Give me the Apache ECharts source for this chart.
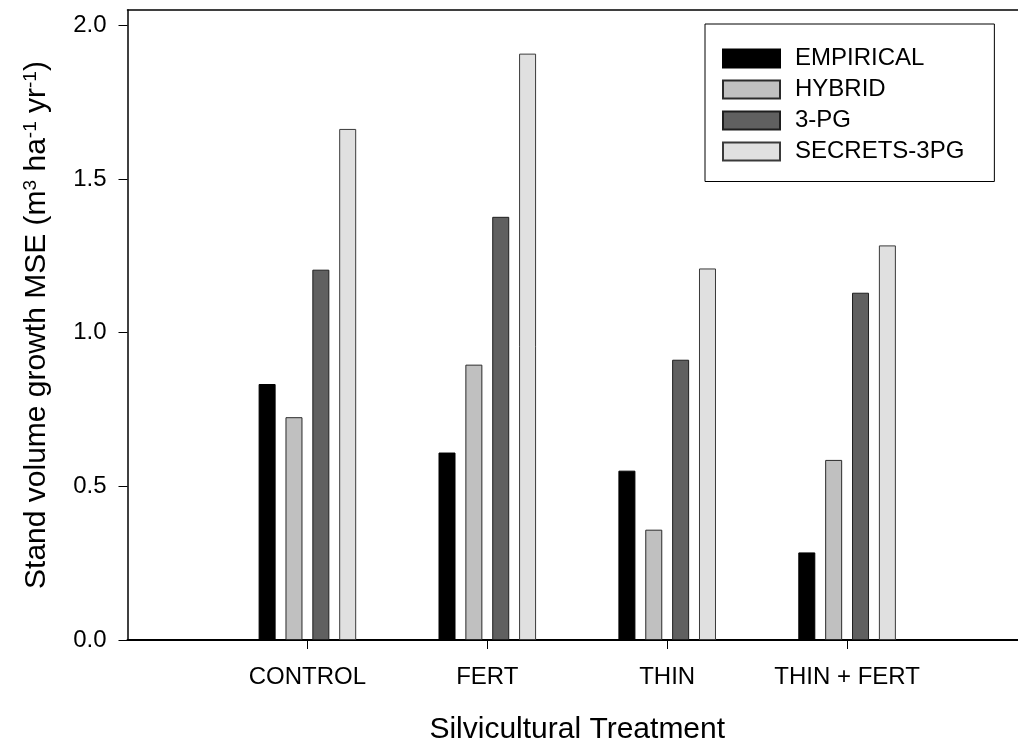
<!DOCTYPE html>
<html>
<head>
<meta charset="utf-8">
<script src="https://cdn.jsdelivr.net/npm/echarts@6/dist/echarts.min.js"></script>
<style>
  html, body { margin: 0; padding: 0; background: #fff; }
  #chart { width: 1018px; height: 745px; }
</style>
</head>
<body>
<div id="chart"></div>
<script>
// Treatments along the x axis (blank slots pad the axis ends)
const treatments = ['CONTROL', 'FERT', 'THIN', 'THIN + FERT'];
// Stand volume growth MSE (m3 ha-1 yr-1) for each model
const empirical = [0.833, 0.610, 0.551, 0.285];
const hybrid    = [0.725, 0.896, 0.359, 0.586];
const pg3       = [1.205, 1.377, 0.912, 1.130];
const secrets   = [1.663, 1.908, 1.209, 1.284];
const yTicks = [0, 0.5, 1.0, 1.5, 2.0];

const FONT = 'Arial, "Liberation Sans", sans-serif';
const pad = arr => ['-'].concat(arr, ['-']);
const categories = [''].concat(treatments, ['']);

const models = [
  { name: 'EMPIRICAL',   data: empirical, color: '#000000', border: '#000000' },
  { name: 'HYBRID',      data: hybrid,    color: '#c0c0c0', border: '#2a2a2a' },
  { name: '3-PG',        data: pg3,       color: '#606060', border: '#1e1e1e' },
  { name: 'SECRETS-3PG', data: secrets,   color: '#e0e0e0', border: '#3a3a3a' }
];

const chart = echarts.init(document.getElementById('chart'), null, { renderer: 'canvas' });

chart.setOption({
  animation: false,
  backgroundColor: '#ffffff',
  textStyle: { fontFamily: FONT },
  grid: {
    left: 127.5, top: 10, right: -9, bottom: 105,
    outerBoundsMode: 'none',
    containLabel: false
  },
  legend: {
    orient: 'vertical',
    left: 705, top: 24,
    padding: [22.5, 30, 18, 17],
    borderColor: '#000', borderWidth: 1,
    itemWidth: 57, itemHeight: 18, itemGap: 7,
    icon: 'rect',
    textStyle: { fontFamily: FONT, fontSize: 24, color: '#000', padding: [0, 0, 0, 10] },
    data: models.map(m => m.name)
  },
  xAxis: [{
    type: 'category',
    data: categories,
    boundaryGap: false,
    name: 'Silvicultural Treatment',
    nameLocation: 'middle',
    nameGap: 75,
    nameTextStyle: { fontFamily: FONT, fontSize: 30, color: '#000' },
    axisLine: { lineStyle: { color: '#000', width: 2 } },
    axisTick: {
      length: 9, lineStyle: { color: '#000', width: 1 },
      interval: (i) => i >= 1 && i <= treatments.length
    },
    axisLabel: { interval: 0, margin: 25, fontFamily: FONT, fontSize: 24, color: '#000' },
    splitLine: { show: false }
  }, {
    // top frame line of the plot area
    type: 'category',
    data: categories,
    boundaryGap: false,
    position: 'top',
    axisLine: { show: true, lineStyle: { color: '#000', width: 1.5 } },
    axisTick: { show: false },
    axisLabel: { show: false },
    splitLine: { show: false }
  }],
  yAxis: {
    type: 'value',
    min: 0, max: 2.05, interval: 0.5,
    name: 'Stand volume growth MSE (m{sup|3} ha{sup|-1} yr{sup|-1})',
    nameLocation: 'middle',
    nameGap: 76,
    nameRotate: 90,
    nameTextStyle: {
      fontFamily: FONT, fontSize: 30, color: '#000',
      rich: { sup: { fontFamily: FONT, fontSize: 19, color: '#000', verticalAlign: 'top' } }
    },
    axisLine: { show: true, lineStyle: { color: '#000', width: 1.5 } },
    axisTick: { show: true, length: 9, customValues: yTicks, lineStyle: { color: '#000', width: 1 } },
    axisLabel: {
      customValues: yTicks,
      margin: 21, fontFamily: FONT, fontSize: 24, color: '#000',
      formatter: v => Number(v).toFixed(1)
    },
    splitLine: { show: false }
  },
  series: models.map(m => ({
    name: m.name,
    type: 'bar',
    data: pad(m.data),
    barWidth: 17,
    barGap: '58%',
    itemStyle: { color: m.color, borderColor: m.border, borderWidth: 1 },
    emphasis: { disabled: true }
  }))
});
</script>
</body>
</html>
